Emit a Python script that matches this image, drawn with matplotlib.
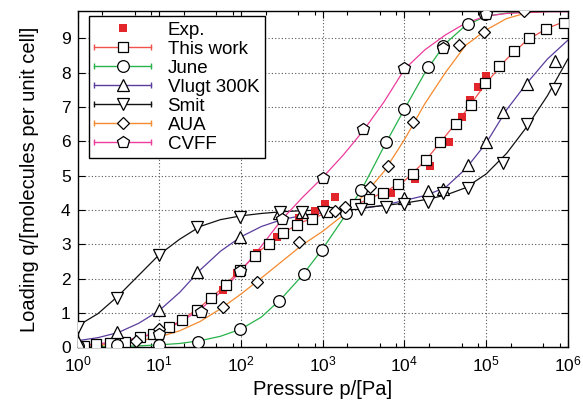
import matplotlib
matplotlib.use("Agg")
import matplotlib.pyplot as plt
from matplotlib.lines import Line2D
from matplotlib.legend_handler import HandlerLine2D
from matplotlib.ticker import FixedLocator, NullFormatter, MultipleLocator

plt.rcParams['font.family'] = ['Liberation Sans', 'DejaVu Sans']
plt.rcParams['mathtext.fontset'] = 'custom'
plt.rcParams['mathtext.rm'] = 'Liberation Sans'
plt.rcParams['mathtext.default'] = 'regular'

# measured points (pressure in Pa, loading in molecules per unit cell)
exp_p = [60, 89, 155, 275, 510, 795, 1070, 1410, 6760, 13500, 20400,
         34700, 51300, 63100, 79400, 100000]
exp_q = [1.67, 2.17, 2.74, 3.22, 3.76, 3.98, 4.18, 4.37, 4.51, 4.91, 5.29,
         5.99, 6.72, 7.21, 7.58, 7.92]

work_p = [1.2, 1.7, 2.5, 3.8, 5.8, 8.5, 13, 19, 29, 43, 65, 98, 148, 219, 324,
          490, 741, 1120, 2510, 3720, 5500, 8410, 12600, 18600, 27500, 42700,
          64600, 97700, 145000, 221000, 335000, 537000, 891000]
work_q = [0.05, 0.1, 0.13, 0.16, 0.29, 0.39, 0.58, 0.8, 1.09, 1.43, 1.8, 2.25,
          2.66, 3.01, 3.32, 3.57, 3.73, 3.94, 4.18, 4.31, 4.51, 4.75, 5.05,
          5.46, 5.97, 6.51, 7.05, 7.7, 8.2, 8.64, 9.0, 9.27, 9.46]

june_p = [1, 3, 10, 30, 98, 295, 590, 980, 1950, 2950, 5960, 9890, 19500,
          29500, 59600, 97700]
june_q = [0.05, 0.07, 0.07, 0.16, 0.52, 1.36, 2.14, 2.84, 3.9, 4.59, 5.97,
          6.94, 8.18, 8.77, 9.42, 9.71]

vlugt_p = [1, 3, 10, 29, 98, 290, 560, 9890, 19500, 29500, 59600, 100000,
           162000, 316000, 692000]
vlugt_q = [0.16, 0.45, 1.09, 2.2, 3.22, 3.92, 3.95, 4.34, 4.55, 4.6, 5.31,
           5.99, 6.87, 7.67, 8.33]

smit_p = [1, 3, 10, 29, 98, 300, 560, 1000, 2950, 5890, 10000, 19500, 29500,
          59600, 162000, 316000, 692000]
smit_q = [0.6, 1.43, 2.69, 3.5, 3.81, 3.94, 3.94, 3.95, 4.03, 4.1, 4.17, 4.23,
          4.49, 4.65, 5.36, 6.51, 7.52]

aua_p = [5.2, 10, 60, 155, 510, 1410, 1860, 3800, 6310, 12900, 46800, 93300,
         288000]
aua_q = [0.19, 0.53, 1.17, 1.89, 3.08, 3.98, 4.1, 4.68, 5.27, 6.58, 8.81, 9.2,
         9.8]

cvff_p = [10, 32, 98, 316, 1000, 3090, 10000, 29500, 100000]
cvff_q = [0.39, 1.03, 2.21, 3.75, 4.93, 6.36, 8.15, 8.72, 9.72]

curve_p = [1, 1.78, 3.16, 5.62, 10, 17.8, 31.6, 56.2, 100, 178, 316, 562,
           1e3, 1.78e3, 3.16e3, 5.62e3, 1e4, 1.78e4, 3.16e4, 5.62e4, 1e5,
           1.78e5, 3.16e5, 5.62e5, 1e6]
work_fit = [0.03, 0.07, 0.13, 0.27, 0.45, 0.75, 1.17, 1.68, 2.27, 2.85, 3.32,
            3.65, 3.87, 4.05, 4.25, 4.52, 4.85, 5.42, 6.15, 6.88, 7.7, 8.4,
            8.95, 9.3, 9.53]
june_fit = [0.01, 0.01, 0.02, 0.04, 0.07, 0.11, 0.19, 0.32, 0.53, 0.88, 1.43,
            2.09, 2.87, 3.75, 4.7, 5.85, 6.94, 8.0, 8.85, 9.38, 9.65, 9.74,
            9.78, 9.79, 9.8]
vlugt_fit = [0.19, 0.28, 0.43, 0.7, 1.07, 1.6, 2.25, 2.8, 3.22, 3.52, 3.72,
             3.84, 3.92, 3.98, 4.05, 4.14, 4.28, 4.42, 4.65, 5.2, 5.95, 6.92,
             7.7, 8.4, 8.95]
smit_fit = [0.62, 0.98, 1.5, 2.1, 2.7, 3.15, 3.52, 3.72, 3.83, 3.9, 3.95,
            3.98, 4.0, 4.03, 4.07, 4.13, 4.2, 4.3, 4.43, 4.65, 5.05, 5.65,
            6.43, 7.33, 8.4]
aua_fit = [0.04, 0.06, 0.1, 0.18, 0.3, 0.48, 0.75, 1.12, 1.55, 2.02, 2.5,
           2.98, 3.38, 3.85, 4.42, 5.12, 6.05, 7.1, 8.0, 8.8, 9.25, 9.58,
           9.75, 9.79, 9.8]
cvff_fit = [0.06, 0.1, 0.17, 0.28, 0.45, 0.72, 1.1, 1.6, 2.22, 2.95, 3.72,
            4.36, 4.95, 5.6, 6.32, 7.15, 8.1, 8.67, 9.1, 9.45, 9.65, 9.73,
            9.76, 9.78, 9.78]

x_ticks = [1, 10, 100, 1e3, 1e4, 1e5, 1e6]
x_minor = [m * 10 ** k for k in range(6) for m in (2, 5, 8)]


class HandlerCapLine(HandlerLine2D):
    # gnuplot style key: line with small vertical caps on both ends
    def create_artists(self, legend, orig_handle, xdescent, ydescent,
                       width, height, fontsize, trans):
        artists = super().create_artists(legend, orig_handle, xdescent,
                                         ydescent, width, height, fontsize,
                                         trans)
        if orig_handle.get_linestyle() in ('None', 'none', ''):
            return artists
        y = (height - ydescent) / 2
        caps = Line2D([-xdescent, -xdescent + width], [y, y],
                      linestyle='none', marker='|', markersize=5,
                      markeredgewidth=1.0, color=orig_handle.get_color())
        caps.set_transform(trans)
        return [caps] + artists


fig = plt.figure(figsize=(5.83, 4.09), dpi=100)
ax = fig.add_axes([0.133, 0.151, 0.841, 0.822])

series = [
    ("This work", work_p, work_q, work_fit, '#f0524c', 's', 7.6),
    ("June", june_p, june_q, june_fit, '#27b24a', 'o', 8.4),
    ("Vlugt 300K", vlugt_p, vlugt_q, vlugt_fit, '#5a3d9e', '^', 8.6),
    ("Smit", smit_p, smit_q, smit_fit, '#111111', 'v', 8.6),
    ("AUA", aua_p, aua_q, aua_fit, '#f58a2e', 'D', 5.8),
    ("CVFF", cvff_p, cvff_q, cvff_fit, '#ec3c9c', 'p', 9.2),
]

handles = []
ax.plot(exp_p, exp_q, linestyle='none', marker='s', markersize=6.4,
        color='#e3262b', markeredgewidth=0, zorder=3)
handles.append(Line2D([], [], linestyle='none', marker='s', markersize=6.4,
                      color='#e3262b', markeredgewidth=0, label='Exp.'))

for name, px, qy, fit, col, mk, ms in series:
    ax.plot(curve_p, fit, color=col, linewidth=0.9, zorder=2)
    ax.plot(px, qy, linestyle='none', marker=mk, markersize=ms,
            markerfacecolor='white', markeredgecolor='black',
            markeredgewidth=0.9, zorder=4)
    handles.append(Line2D([], [], color=col, linewidth=1.0, marker=mk,
                          markersize=ms, markerfacecolor='white',
                          markeredgecolor='black', markeredgewidth=0.9,
                          label=name))

ax.set_xscale('log')
ax.set_xlim(1, 1e6)
ax.set_ylim(0, 9.8)
ax.yaxis.set_major_locator(MultipleLocator(1))
ax.set_xticks(x_ticks)
ax.xaxis.set_minor_locator(FixedLocator(x_minor))
ax.xaxis.set_minor_formatter(NullFormatter())

ax.grid(True, which='major', linestyle=(0, (1, 2)), color='#555555',
        linewidth=0.8)
ax.tick_params(which='both', direction='in', top=True, right=True,
               labelsize=12.5, width=0.8)
ax.tick_params(which='major', length=5, pad=5)
ax.tick_params(which='minor', length=3)
for s in ax.spines.values():
    s.set_linewidth(1.0)

ax.set_xlabel('Pressure p/[Pa]', fontsize=14.5, labelpad=4)
ax.set_ylabel('Loading q/[molecules per unit cell]', fontsize=14.5,
              labelpad=16)

leg = ax.legend(handles=handles, loc='upper left',
                bbox_to_anchor=(0.023, 0.985), fontsize=13.5,
                handlelength=3.0, handletextpad=0.9, labelspacing=0.1,
                borderpad=0.3, borderaxespad=0, fancybox=False,
                edgecolor='black', framealpha=1,
                handler_map={Line2D: HandlerCapLine()})
leg.get_frame().set_linewidth(1.0)
leg.set_zorder(10)

fig.savefig('out.png', dpi=100)
